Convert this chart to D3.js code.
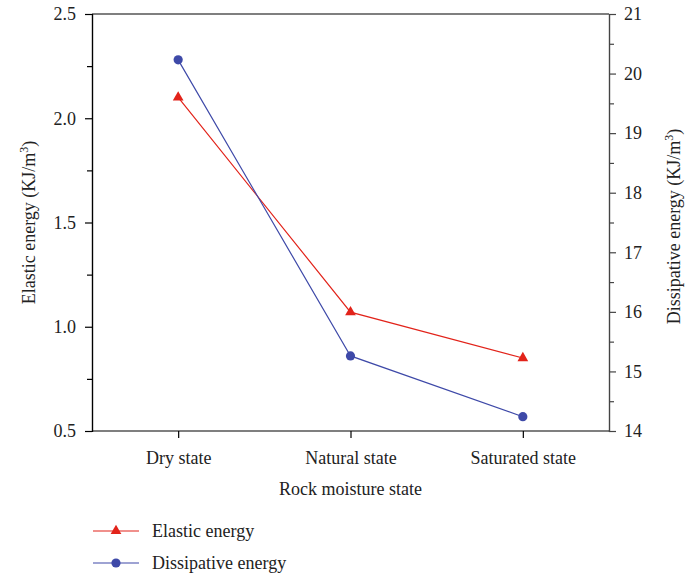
<!DOCTYPE html>
<html><head><meta charset="utf-8">
<script src="https://cdn.jsdelivr.net/npm/d3@7"></script>
<style>body{margin:0;background:#fff}text{font-family:"Liberation Serif","DejaVu Serif",serif;fill:#222}</style>
</head><body><svg id="c" width="688" height="576"></svg>
<script>
const categories = ["Dry state", "Natural state", "Saturated state"];
const elastic = [2.10, 1.07, 0.85];
const dissipative = [20.23, 15.26, 14.24];
const leftTicks = [0.5, 1.0, 1.5, 2.0, 2.5];
const rightTicks = [14, 15, 16, 17, 18, 19, 20, 21];

const svg = d3.select("#c");
const L = 92, R = 609, T = 14, B = 431;
const FS = "18px";
const red = "#e2231a", blue = "#3e49a8";
const x = d3.scalePoint().domain(categories).range([L, R]).padding(0.5);
const yL = d3.scaleLinear().domain([0.5, 2.5]).range([B, T]);
const yR = d3.scaleLinear().domain([14, 21]).range([B, T]);

// top border
svg.append("line").attr("x1", L).attr("x2", R).attr("y1", T).attr("y2", T).attr("stroke", "#000").attr("stroke-width", 1.2);

// left axis
const gL = svg.append("g").attr("transform", `translate(${L},0)`)
  .call(d3.axisLeft(yL).tickValues(leftTicks).tickFormat(d3.format(".1f")).tickSize(7).tickPadding(9));
gL.append("g").call(d3.axisLeft(yL).tickValues(d3.range(0.75, 2.5, 0.5)).tickSize(5).tickFormat(""));
// right axis
const gR = svg.append("g").attr("transform", `translate(${R},0)`)
  .call(d3.axisRight(yR).tickValues(rightTicks).tickFormat(d3.format("d")).tickSize(7).tickPadding(8));
gR.append("g").call(d3.axisRight(yR).tickValues(d3.range(14.5, 21, 1)).tickSize(5).tickFormat(""));
// bottom axis
const gB = svg.append("g").attr("transform", `translate(0,${B})`)
  .call(d3.axisBottom(x).tickSize(7).tickPadding(13));
gB.select(".domain").attr("d", `M${L},0H${R}`);

[gL, gB].forEach(g => { g.selectAll("path,line").attr("stroke", "#000").attr("stroke-width", 1.2); });
gR.selectAll("path,line").attr("stroke", "#444").attr("stroke-width", 1.2);
svg.selectAll(".tick text").style("font-size", FS).attr("fill", "#222").style("font-family", '"Liberation Serif",serif');

// lines
const lineL = d3.line().x((d, i) => x(categories[i])).y(d => yL(d));
const lineR = d3.line().x((d, i) => x(categories[i])).y(d => yR(d));
svg.append("path").attr("d", lineL(elastic)).attr("fill", "none").attr("stroke", red).attr("stroke-width", 1.2);
svg.append("path").attr("d", lineR(dissipative)).attr("fill", "none").attr("stroke", blue).attr("stroke-width", 1.2);

const tri = d3.symbol().type(d3.symbolTriangle).size(50);
svg.selectAll(".tri").data(elastic).join("path")
  .attr("d", tri).attr("transform", (d, i) => `translate(${x(categories[i])},${yL(d)})`).attr("fill", red);
svg.selectAll(".cir").data(dissipative).join("circle")
  .attr("cx", (d, i) => x(categories[i])).attr("cy", d => yR(d)).attr("r", 4.6).attr("fill", blue);

// axis titles
svg.append("text").attr("x", (L + R) / 2).attr("y", 495).attr("text-anchor", "middle").style("font-size", FS).text("Rock moisture state");
const lt = svg.append("text").attr("transform", `translate(35,${(T + B) / 2}) rotate(-90)`).attr("text-anchor", "middle").style("font-size", FS);
lt.append("tspan").text("Elastic energy (KJ/m");
lt.append("tspan").attr("dy", -7).style("font-size", "12px").text("3");
lt.append("tspan").attr("dy", 7).text(")");
const rt = svg.append("text").attr("transform", `translate(680,${(T + B) / 2 + 4}) rotate(-90)`).attr("text-anchor", "middle").style("font-size", FS);
rt.append("tspan").text("Dissipative energy (KJ/m");
rt.append("tspan").attr("dy", -7).style("font-size", "12px").text("3");
rt.append("tspan").attr("dy", 7).text(")");

// legend
const legend = [{name: "Elastic energy", color: red, shape: "tri", y: 531}, {name: "Dissipative energy", color: blue, shape: "cir", y: 563}];
legend.forEach(d => {
  const g = svg.append("g");
  g.append("line").attr("x1", 93).attr("x2", 139).attr("y1", d.y).attr("y2", d.y).attr("stroke", d.color).attr("stroke-width", 1.2);
  if (d.shape === "tri") g.append("path").attr("d", tri).attr("transform", `translate(116,${d.y})`).attr("fill", d.color);
  else g.append("circle").attr("cx", 116).attr("cy", d.y).attr("r", 4.6).attr("fill", d.color);
  g.append("text").attr("x", 152).attr("y", d.y + 6).style("font-size", FS).text(d.name);
});
</script></body></html>
